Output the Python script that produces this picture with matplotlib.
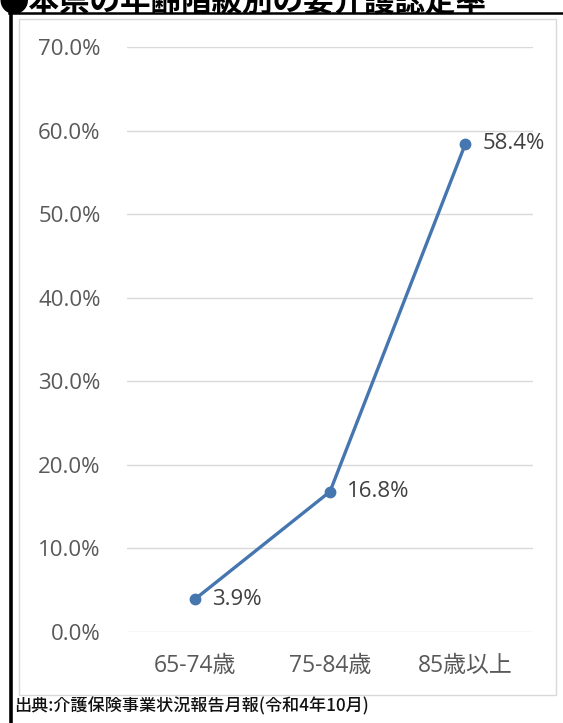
import matplotlib
matplotlib.use("Agg")
import matplotlib.pyplot as plt
from matplotlib.lines import Line2D
from matplotlib.patches import Rectangle

plt.rcParams['font.family'] = ['Open Sans', 'Noto Sans CJK JP', 'DejaVu Sans']

categories = ["65-74歳", "75-84歳", "85歳以上"]
values = [3.9, 16.8, 58.4]
yticks = [0, 10, 20, 30, 40, 50, 60, 70]
title = "●本県の年齢階級別の要介護認定率"
source = "出典:介護保険事業状況報告月報(令和4年10月)"

W, H = 563, 723
fig = plt.figure(figsize=(W / 100, H / 100), dpi=100)
fig.patch.set_facecolor('white')

def fx(px):
    return px / W

def fy(py):
    return 1 - py / H

# frame lines
fig.add_artist(Line2D([fx(10.5), fx(10.5)], [fy(12), 0], color='black', lw=2.6, transform=fig.transFigure))
fig.add_artist(Line2D([fx(9), 1], [fy(13), fy(13)], color='black', lw=1.8, transform=fig.transFigure))
# inner gray box
fig.add_artist(Rectangle((fx(19), fy(695)), fx(556) - fx(19), fy(19) - fy(695),
                         fill=False, edgecolor='#d9d9d9', lw=1.0, transform=fig.transFigure))

ax = fig.add_axes([fx(127), fy(632), fx(533) - fx(127), fy(47) - fy(632)])
x = list(range(len(categories)))
ax.plot(x, values, color='#4676b0', lw=2.4, marker='o', markersize=7.5, solid_capstyle='round')
for xi, v in zip(x, values):
    ax.annotate(f"{v:.1f}%", (xi, v), xytext=(12.5, 0), textcoords='offset points',
                ha='left', va='center', fontsize=16, color='#404040')

ax.set_xlim(-0.5, 2.5)
ax.set_ylim(0, 70)
ax.set_yticks(yticks)
ax.set_yticklabels([f"{t:.1f}%" for t in yticks])
ax.set_xticks(x)
ax.set_xticklabels(categories)
ax.tick_params(axis='both', length=0, labelsize=16, labelcolor='#595959')
ax.tick_params(axis='y', pad=19)
ax.tick_params(axis='x', labelsize=16.5, pad=16)
ax.grid(axis='y', color='#d9d9d9', lw=1.0)
ax.set_axisbelow(True)
for s in ax.spines.values():
    s.set_visible(False)

fig.text(fx(-2), fy(10), title, fontsize=22, fontweight='bold', color='black',
         family=['Noto Sans CJK JP', 'DejaVu Sans'], ha='left', va='baseline')
fig.text(fx(14), fy(706), source, fontsize=12.3, fontweight='medium', color='#111111',
         family=['Noto Sans CJK JP', 'DejaVu Sans'], ha='left', va='center')

fig.savefig("out.png", dpi=100)
